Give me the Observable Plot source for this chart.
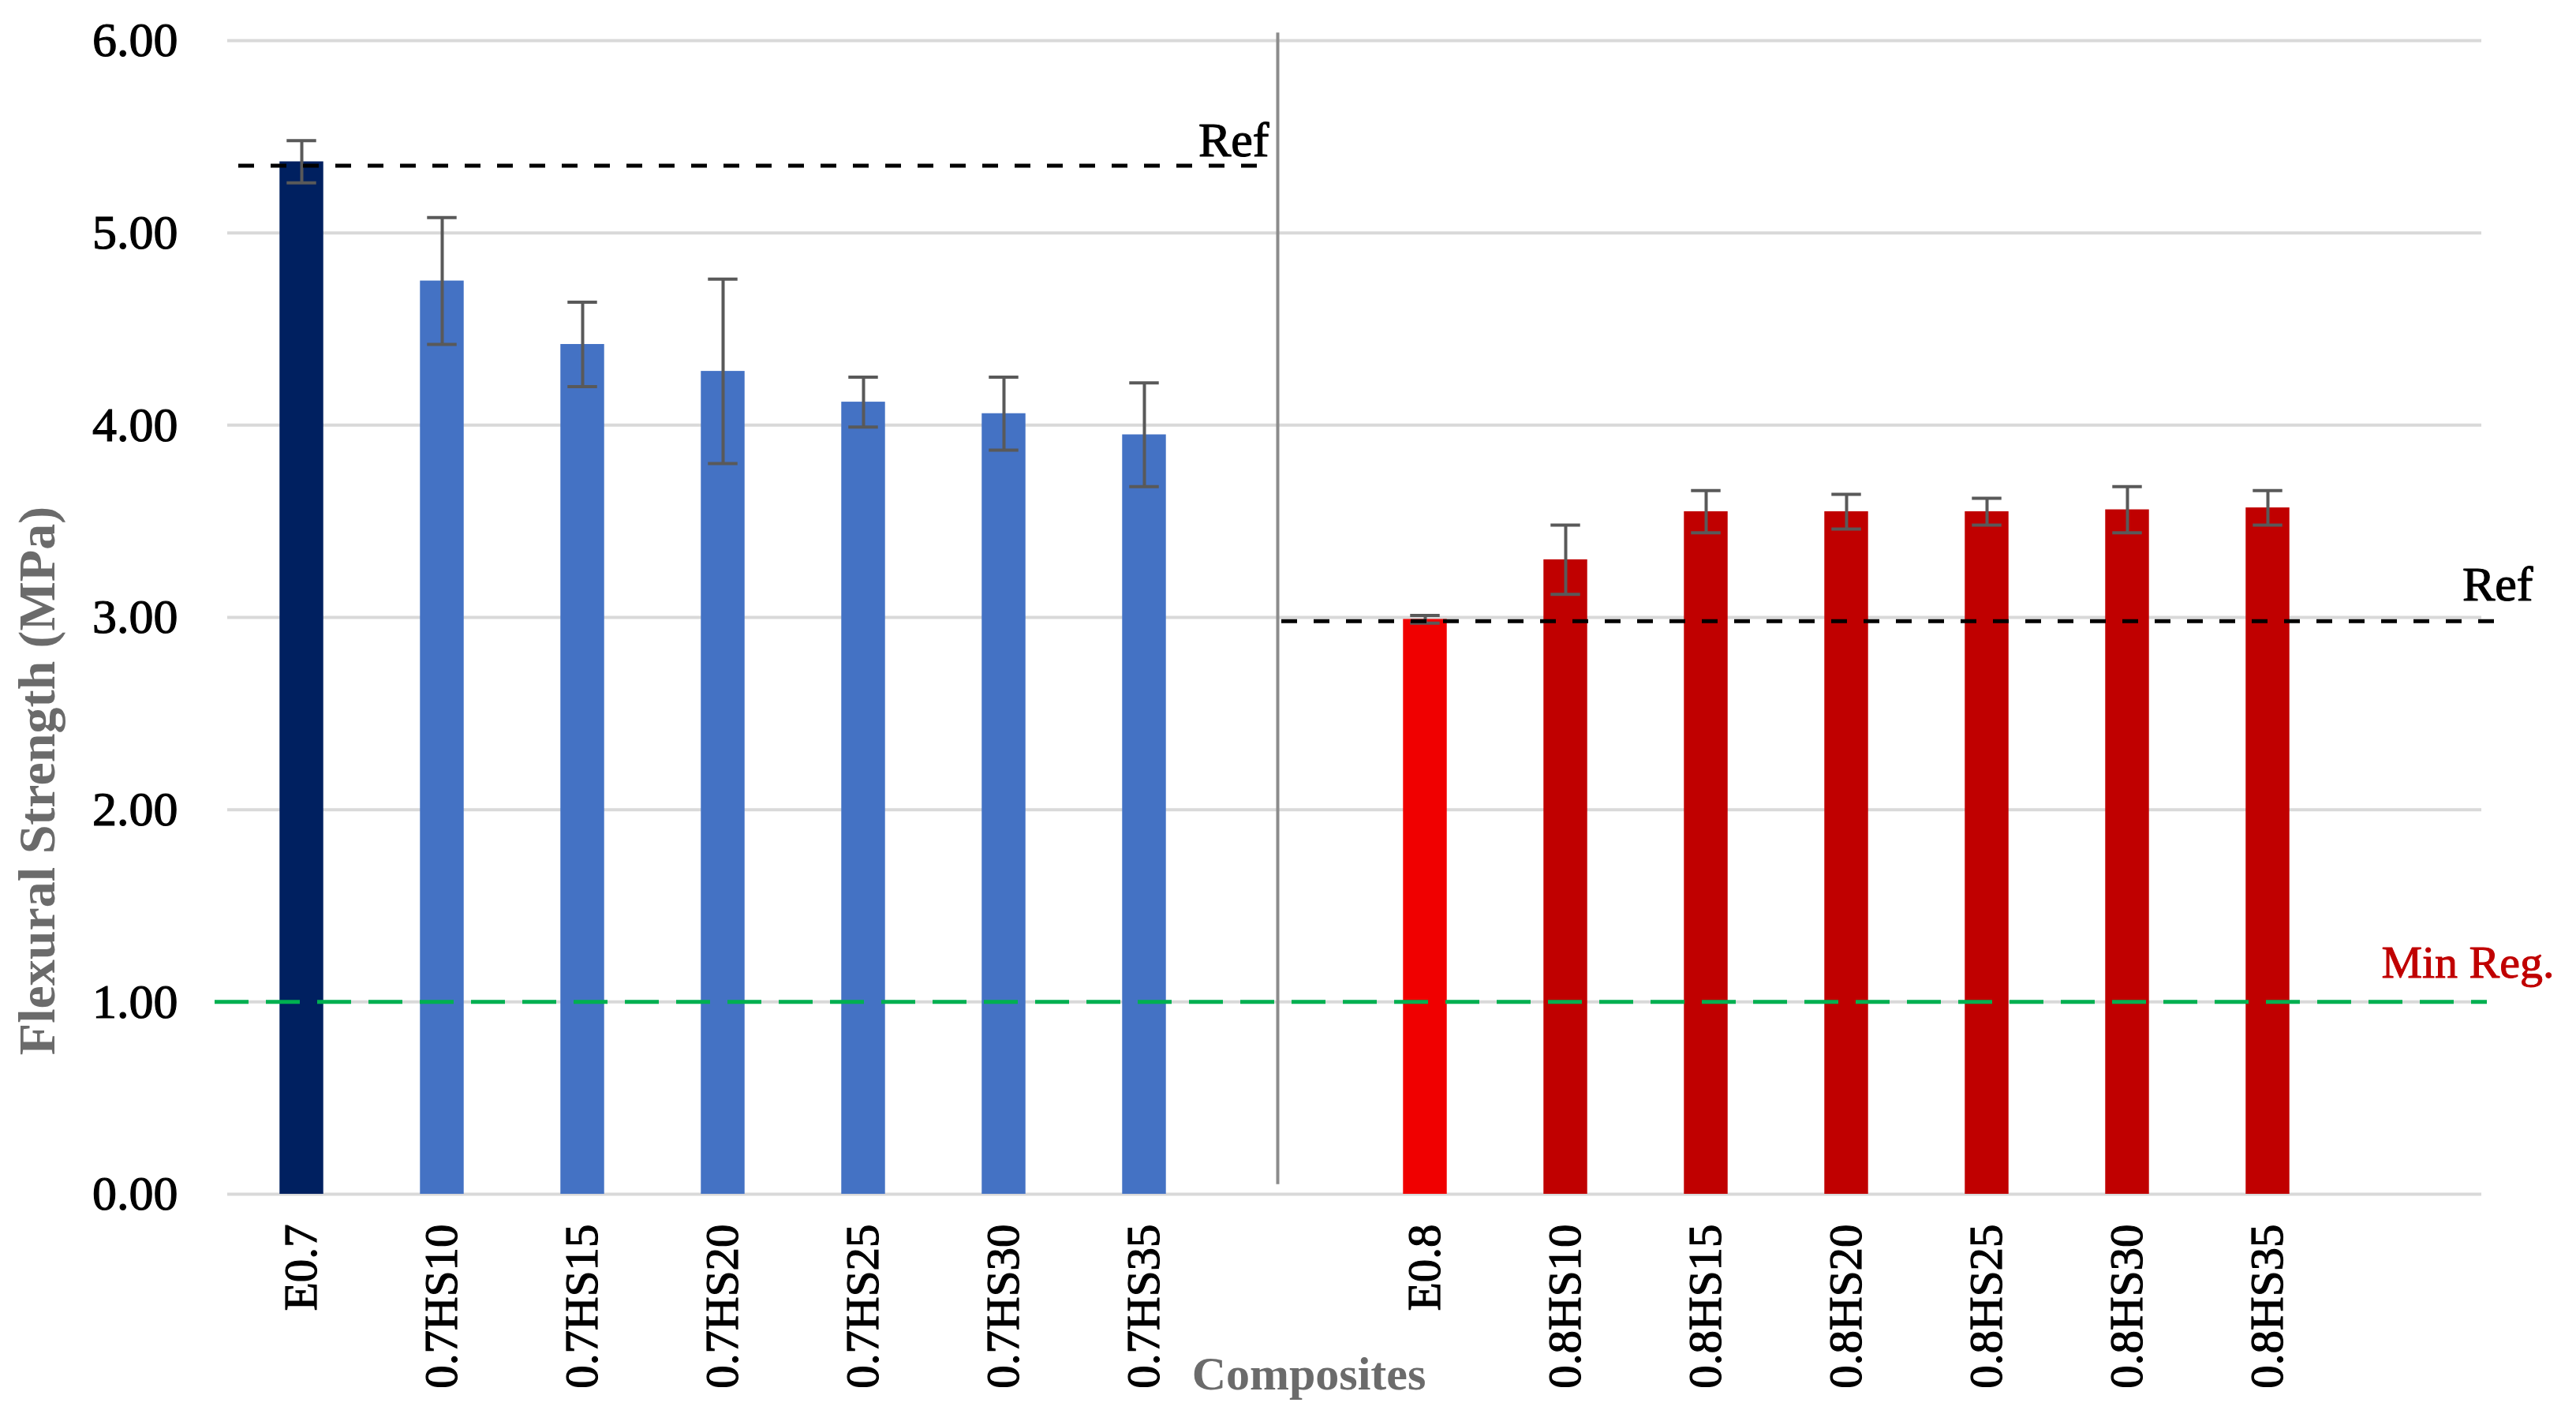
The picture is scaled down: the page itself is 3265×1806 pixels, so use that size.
<!DOCTYPE html>
<html>
<head>
<meta charset="utf-8">
<script src="https://cdn.jsdelivr.net/npm/d3@7"></script>
<script src="https://cdn.jsdelivr.net/npm/@observablehq/plot@0.6"></script>
<style>
  html, body { margin: 0; padding: 0; background: #fff; }
  #chart svg { display: block; }
  #chart g[aria-label$="tick label"] text { stroke: #000; stroke-width: 1.2px; paint-order: stroke; }
</style>
</head>
<body>
<div id="chart"></div>
<script>
// ---- data ----
const categories = ["E0.7","0.7HS10","0.7HS15","0.7HS20","0.7HS25","0.7HS30","0.7HS35"," ",
                    "E0.8","0.8HS10","0.8HS15","0.8HS20","0.8HS25","0.8HS30","0.8HS35","  "];
const barCategories = ["E0.7","0.7HS10","0.7HS15","0.7HS20","0.7HS25","0.7HS30","0.7HS35",
                       "E0.8","0.8HS10","0.8HS15","0.8HS20","0.8HS25","0.8HS30","0.8HS35"];
const strength = [5.37, 4.75, 4.42, 4.28, 4.12, 4.06, 3.95,
                  2.99, 3.30, 3.55, 3.55, 3.55, 3.56, 3.57];
const errors   = [0.11, 0.33, 0.22, 0.48, 0.13, 0.19, 0.27,
                  0.02, 0.18, 0.11, 0.09, 0.07, 0.12, 0.09];
const barColors = ["#002060","#4472C4","#4472C4","#4472C4","#4472C4","#4472C4","#4472C4",
                   "#F00000","#C00000","#C00000","#C00000","#C00000","#C00000","#C00000"];
const yTicks = [0, 1, 2, 3, 4, 5, 6];
const refValues = [5.35, 2.98];
const minReq = [1.00];
const sepExtent = [0.05, 6.04];

// ---- layout ----
const W = 3265, H = 1806;
const ml = 288, mr = 120, mt = 51, mb = 293;
const bw = (W - ml - mr) / categories.length;
const barInset = (bw - 56) / 2;
const capInset = (bw - 38) / 2;
const serif = '"Liberation Serif","Times New Roman",serif';

const rows = barCategories.map((c, i) => ({category: c, value: strength[i], err: errors[i], color: barColors[i]}));

const chart = Plot.plot({
  width: W, height: H,
  marginLeft: ml, marginRight: mr, marginTop: mt, marginBottom: mb,
  style: {fontFamily: serif, fontSize: "62px", color: "#000", background: "#fff"},
  x: {type: "band", domain: categories, padding: 0, axis: null},
  y: {domain: [0, 6], axis: null},
  color: {type: "identity"},
  marks: [
    Plot.ruleY(yTicks, {stroke: "#D9D9D9", strokeWidth: 4}),
    Plot.axisY({ticks: yTicks, tickFormat: d3.format(".2f"), tickSize: 0, tickPadding: 63, label: null, fontSize: 62, fill: "#000"}),
    Plot.axisX({tickRotate: -90, tickSize: 0, tickPadding: 38, label: null, fontSize: 59, fill: "#000",
                tickFormat: d => d.trim() === "" ? "" : d}),
    Plot.barY(rows, {x: "category", y: "value", fill: "color", insetLeft: barInset, insetRight: barInset}),
    Plot.ruleX(rows, {x: "category", y1: d => d.value - d.err, y2: d => d.value + d.err, stroke: "#595959", strokeWidth: 4}),
    Plot.tickY(rows, {x: "category", y: d => d.value + d.err, stroke: "#595959", strokeWidth: 4, insetLeft: capInset, insetRight: capInset}),
    Plot.tickY(rows, {x: "category", y: d => d.value - d.err, stroke: "#595959", strokeWidth: 4, insetLeft: capInset, insetRight: capInset}),
    Plot.ruleX([categories[7]], {y1: sepExtent[0], y2: sepExtent[1], stroke: "#8C8C8C", strokeWidth: 4, dx: -9}),
    Plot.ruleY([refValues[0]], {x1: () => categories[0], x2: () => categories[7], insetLeft: 9, insetRight: 109,
                stroke: "#000", strokeWidth: 5, strokeDasharray: "20,21"}),
    Plot.ruleY([refValues[1]], {x1: () => categories[7], x2: () => categories[15], insetLeft: 85, insetRight: -35,
                stroke: "#000", strokeWidth: 5, strokeDasharray: "20,21"}),
    Plot.ruleY(minReq, {stroke: "#00B050", strokeWidth: 5, strokeDasharray: "43,22", insetLeft: -16, insetRight: -7}),
    Plot.text([refValues[0]], {x: () => categories[7], y: d => d, text: () => "Ref", textAnchor: "end",
               dx: -20, dy: -12, lineAnchor: "bottom", fontSize: 62, fill: "#000", stroke: "#000", strokeWidth: 1.2}),
    Plot.text([refValues[1]], {y: d => d, text: () => "Ref", frameAnchor: "right", textAnchor: "end",
               dx: 65, dy: -26, lineAnchor: "bottom", fontSize: 62, fill: "#000", stroke: "#000", strokeWidth: 1.2}),
    Plot.text(minReq, {y: d => d, text: () => "Min Reg.", frameAnchor: "right", textAnchor: "end",
               dx: 92, dy: -31, lineAnchor: "bottom", fontSize: 58, fill: "#C00000", stroke: "#C00000", strokeWidth: 1}),
    Plot.text(["Flexural Strength (MPa)"], {frameAnchor: "left", rotate: -90, textAnchor: "middle", lineAnchor: "bottom",
               dx: -220, dy: 207, fontSize: 66, fontWeight: "bold", fill: "#6B6B6B"}),
    Plot.text(["Composites"], {frameAnchor: "bottom", textAnchor: "middle", lineAnchor: "bottom",
               dx: -58, dy: 247, fontSize: 60, fontWeight: "bold", fill: "#6B6B6B"})
  ]
});
document.getElementById("chart").appendChild(chart);
</script>
</body>
</html>
